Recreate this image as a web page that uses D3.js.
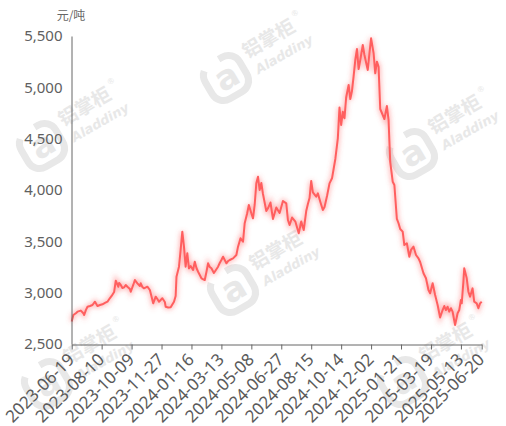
<!DOCTYPE html>
<html><head><meta charset="utf-8">
<script src="https://cdn.jsdelivr.net/npm/d3@7"></script>
<style>body{margin:0;background:#fff;} svg{display:block;}</style>
</head><body><svg id="c" width="506" height="426"></svg>
<script>
// ---- data ----
const unitLabel = "元/吨";
const tickLabels = ["2023-06-19","2023-08-10","2023-10-09","2023-11-27","2024-01-16","2024-03-13","2024-05-08","2024-06-27","2024-08-15","2024-10-14","2024-12-02","2025-01-21","2025-03-19","2025-05-13","2025-06-20"];
const tickIdx = [0,36,72,108,144,180,216,252,288,324,360,396,432,468,493];
const yTicks = [2500,3000,3500,4000,4500,5000,5500];
const dayIdx = [0,2,5,7,11,14,15,17,19,22,25,28,31,34,37,40,43,46,48,51,53,56,57,59,61,63,65,67,70,71,74,76,79,82,83,85,87,91,94,95,98,101,103,105,109,112,113,116,119,123,125,126,129,131,133,135,137,139,141,143,146,148,150,152,154,156,160,162,164,166,168,171,172,176,178,180,182,186,188,190,194,198,200,203,206,208,211,213,216,218,220,222,224,226,228,230,234,236,239,242,246,250,254,258,260,262,265,269,273,276,279,282,284,286,288,290,294,296,299,302,304,307,310,313,317,320,322,324,326,328,330,333,335,337,339,341,343,345,347,350,352,356,358,360,363,365,367,369,371,373,376,379,381,383,386,388,391,393,395,398,400,403,406,408,411,414,417,419,423,426,429,431,434,437,440,443,446,448,450,452,454,456,458,461,464,466,468,469,471,472,475,477,479,482,484,487,489,491,493];
const price = [2720,2782,2800,2815,2825,2800,2782,2830,2863,2870,2880,2912,2870,2880,2887,2900,2912,2948,2968,3006,3117,3058,3094,3075,3045,3052,3075,3058,3036,3009,3075,3123,3091,3065,3091,3055,3042,3058,3026,2994,2896,2961,2938,2912,2945,2909,2863,2855,2857,2912,2968,3155,3253,3416,3594,3448,3253,3383,3237,3260,3221,3302,3240,3204,3172,3140,3123,3201,3286,3250,3237,3192,3204,3253,3289,3318,3350,3286,3308,3318,3334,3367,3448,3530,3496,3676,3773,3854,3773,3724,3854,4065,4130,4000,4068,3961,3795,3822,3878,3718,3830,3776,3893,3870,3708,3659,3732,3691,3578,3693,3610,3795,3864,3922,4088,3976,3935,3967,3883,3805,3834,3942,4065,4114,4302,4503,4803,4633,4763,4698,4901,5023,4886,4964,5110,5266,5373,5178,5266,5412,5315,5169,5331,5477,5334,5136,5250,5201,4789,4750,4691,4818,4682,4273,4081,4049,3718,3676,3620,3594,3464,3481,3350,3416,3448,3367,3334,3299,3189,3140,3026,2994,3091,2977,2880,2758,2831,2870,2831,2863,2815,2848,2815,2685,2799,2831,2929,2896,3107,3237,3140,3009,2961,3042,2912,2896,2848,2896,2912];
const wmText = "铝掌柜";
const wmBrand = "Aladdiny";

// ---- chart ----
const svg = d3.select("#c");
const x = d3.scaleLinear().domain([0, d3.max(tickIdx)]).range([71.7, 481.7]);
const y = d3.scaleLinear().domain([2500, 5500]).range([344, 36]);

// watermarks
const wmPos = [[226,78],[412,154],[42,146],[233,290],[47,384],[403,382]];
const wmCol = "#e8e8e8";
const wm = svg.append("g");
wmPos.forEach(([px,py])=>{
  const g = wm.append("g").attr("transform",`translate(${px},${py}) rotate(-30)`);
  // logo: open rounded frame + letter
  g.append("rect").attr("x",-20).attr("y",-20).attr("width",40).attr("height",40).attr("rx",13)
    .attr("fill","none").attr("stroke",wmCol).attr("stroke-width",7)
    .attr("stroke-dasharray","118 42").attr("stroke-dashoffset","-10");
  g.append("text").attr("x",1).attr("y",11).attr("text-anchor","middle").attr("fill",wmCol)
    .style("font-family","DejaVu Sans").style("font-weight","bold").style("font-size","34px").text("a");
  g.append("text").attr("x",28).attr("y",-6).attr("fill",wmCol)
    .style("font-family","Noto Sans CJK SC").style("font-weight","bold").style("font-size","19px").text(wmText);
  g.append("text").attr("x",30).attr("y",13).attr("fill",wmCol)
    .style("font-family","DejaVu Sans").style("font-weight","bold").style("font-style","italic").style("font-size","13px").text(wmBrand);
  g.append("text").attr("x",88).attr("y",-19).attr("fill",wmCol)
    .style("font-family","DejaVu Sans").style("font-size","8px").text("®");
});

// glow filter
const defs = svg.append("defs");
const f = defs.append("filter").attr("id","glow").attr("x","-10%").attr("y","-10%").attr("width","120%").attr("height","120%");
f.append("feGaussianBlur").attr("stdDeviation",2.5);

const data = dayIdx.map((d,i)=>({i:d, v:price[i]}));
const line = d3.line().x(d=>x(d.i)).y(d=>y(d.v));
svg.append("path").datum(data).attr("d",line).attr("fill","none")
  .attr("stroke","rgba(255,90,90,0.45)").attr("stroke-width",4).attr("filter","url(#glow)");
svg.append("path").datum(data).attr("d",line).attr("fill","none")
  .attr("stroke","#ff5f5f").attr("stroke-width",2).attr("stroke-linejoin","round");

// y axis
const ya = svg.append("g").attr("transform","translate(71.5,0)")
  .call(d3.axisLeft(y).tickValues(yTicks).tickSize(0).tickPadding(9).tickFormat(d3.format(",")));
ya.select(".domain").attr("stroke","#666");
ya.selectAll("text").attr("fill","#606060").style("font-family","Noto Sans").style("font-size","15px");

// x axis
const xa = svg.append("g").attr("transform","translate(0,344.5)")
  .call(d3.axisBottom(x).tickValues(tickIdx).tickSizeInner(5).tickSizeOuter(0).tickFormat((d,i)=>tickLabels[i]));
xa.select(".domain").attr("stroke","#666");
xa.selectAll(".tick line").attr("stroke","#666");
xa.selectAll("text").attr("fill","#5a5a5a").style("font-family","Noto Sans").style("font-size","17px")
  .attr("x",0).attr("y",0).attr("dy","0.35em").style("text-anchor","end")
  .attr("transform","translate(-1,12) rotate(-45)");

// unit label
svg.append("text").attr("x",71).attr("y",20).attr("text-anchor","middle")
  .attr("fill","#666").style("font-family","Noto Sans CJK SC").style("font-size","12px").text(unitLabel);
</script></body></html>
